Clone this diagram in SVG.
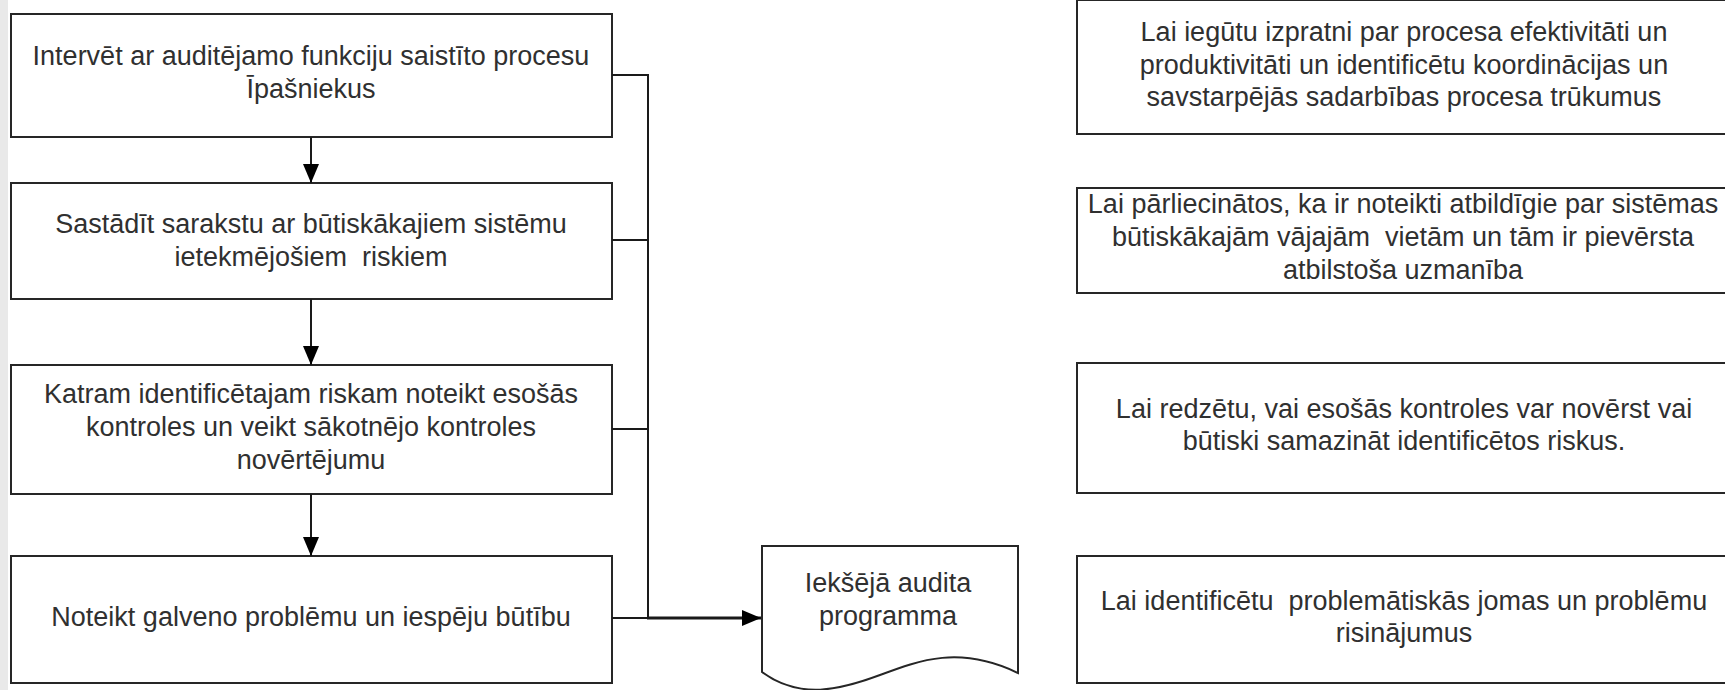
<svg xmlns="http://www.w3.org/2000/svg" width="1725" height="690" viewBox="0 0 1725 690">
  <style>
    .box { fill: #ffffff; stroke: #262626; stroke-width: 2; }
    .t { font-family: "Liberation Sans", Arial, sans-serif; font-size: 27px; fill: #303030; text-anchor: middle; white-space: pre; }
    .ln { fill: none; stroke: #1a1a1a; stroke-width: 2; }
    .thick { fill: none; stroke: #1a1a1a; stroke-width: 3; }
  </style>
  <defs>
    <marker id="ah" markerUnits="userSpaceOnUse" markerWidth="19" markerHeight="16" refX="19" refY="8" orient="auto">
      <path d="M0,0 L19,8 L0,16 Z" fill="#000000"/>
    </marker>
  </defs>
  <rect x="0" y="0" width="1725" height="690" fill="#ffffff"/>
  <rect x="0" y="0" width="8" height="690" fill="#e9e9e9"/>

  <g id="step1">
    <rect class="box" x="11" y="14" width="601" height="123"/>
    <text class="t" x="311" y="65">Intervēt ar auditējamo funkciju saistīto procesu</text>
    <text class="t" x="311" y="98">Īpašniekus</text>
  </g>
  <g id="step2">
    <rect class="box" x="11" y="183" width="601" height="116"/>
    <text class="t" x="311" y="233">Sastādīt sarakstu ar būtiskākajiem sistēmu</text>
    <text class="t" x="311" y="266">ietekmējošiem  riskiem</text>
  </g>
  <g id="step3">
    <rect class="box" x="11" y="365" width="601" height="129"/>
    <text class="t" x="311" y="403">Katram identificētajam riskam noteikt esošās</text>
    <text class="t" x="311" y="436">kontroles un veikt sākotnējo kontroles</text>
    <text class="t" x="311" y="469">novērtējumu</text>
  </g>
  <g id="step4">
    <rect class="box" x="11" y="556" width="601" height="127"/>
    <text class="t" x="311" y="626">Noteikt galveno problēmu un iespēju būtību</text>
  </g>

  <g id="document">
    <path class="box" d="M762,546 L1018,546 L1018,673 C960,645 920,660 880,675 C840,690 800,700 762,672 Z"/>
    <text class="t" x="888" y="592">Iekšējā audita</text>
    <text class="t" x="888" y="625">programma</text>
  </g>

  <g id="reason1">
    <rect class="box" x="1077" y="0" width="653" height="134"/>
    <text class="t" x="1404" y="41">Lai iegūtu izpratni par procesa efektivitāti un</text>
    <text class="t" x="1404" y="73.5">produktivitāti un identificētu koordinācijas un</text>
    <text class="t" x="1404" y="106">savstarpējās sadarbības procesa trūkumus</text>
  </g>
  <g id="reason2">
    <rect class="box" x="1077" y="188" width="653" height="105"/>
    <text class="t" x="1403" y="213">Lai pārliecinātos, ka ir noteikti atbildīgie par sistēmas</text>
    <text class="t" x="1403" y="246">būtiskākajām vājajām  vietām un tām ir pievērsta</text>
    <text class="t" x="1403" y="279">atbilstoša uzmanība</text>
  </g>
  <g id="reason3">
    <rect class="box" x="1077" y="363" width="653" height="130"/>
    <text class="t" x="1404" y="418">Lai redzētu, vai esošās kontroles var novērst vai</text>
    <text class="t" x="1404" y="450">būtiski samazināt identificētos riskus.</text>
  </g>
  <g id="reason4">
    <rect class="box" x="1077" y="556" width="653" height="127"/>
    <text class="t" x="1404" y="610">Lai identificētu  problemātiskās jomas un problēmu</text>
    <text class="t" x="1404" y="642">risinājumus</text>
  </g>

  <g id="connectors">
    <line class="ln" x1="311" y1="137" x2="311" y2="183" marker-end="url(#ah)"/>
    <line class="ln" x1="311" y1="299" x2="311" y2="365" marker-end="url(#ah)"/>
    <line class="ln" x1="311" y1="494" x2="311" y2="556" marker-end="url(#ah)"/>
    <path class="ln" d="M612,75 H648 V618"/>
    <line class="ln" x1="612" y1="240" x2="648" y2="240"/>
    <line class="ln" x1="612" y1="429" x2="648" y2="429"/>
    <line class="ln" x1="612" y1="618" x2="648" y2="618"/>
    <line class="thick" x1="647" y1="618" x2="761" y2="618" marker-end="url(#ah)"/>
  </g>
</svg>
